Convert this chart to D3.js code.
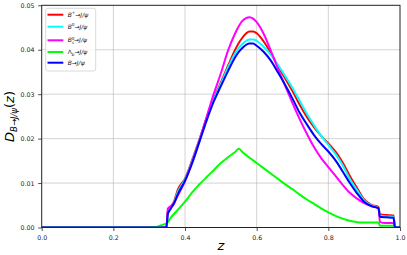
<!DOCTYPE html>
<html><head><meta charset="utf-8">
<script src="https://cdn.jsdelivr.net/npm/d3@7/dist/d3.min.js"></script>
<style>body{margin:0;background:#fff}svg{display:block}text{font-family:"DejaVu Sans",sans-serif}</style>
</head><body><div id="chart"></div>
<script>
const zGrid = [0, 0.30, 0.32, 0.34, 0.348, 0.352, 0.36, 0.37, 0.38, 0.40, 0.42, 0.44, 0.46, 0.48, 0.50, 0.52, 0.54, 0.55, 0.56, 0.58, 0.59, 0.60, 0.62, 0.64, 0.66, 0.68, 0.70, 0.72, 0.74, 0.76, 0.78, 0.80, 0.82, 0.84, 0.86, 0.88, 0.90, 0.92, 0.94, 0.944, 0.96, 0.982, 0.986, 1.0];
const bPlus = [0,0,0,0,0,0.0035,0.0045,0.006,0.0085,0.011,0.0152,0.0198,0.0246,0.029,0.0326,0.0364,0.0400,0.0415,0.0427,0.0441,0.0441,0.0437,0.0418,0.0392,0.0362,0.0335,0.0307,0.0276,0.0249,0.0226,0.0206,0.0189,0.0171,0.0146,0.0116,0.0089,0.0063,0.0051,0.0046,0.0030,0.0028,0.0027,0,0];
const bZero = [0,0,0,0,0,0.0032,0.0044,0.0058,0.008,0.0108,0.015,0.0197,0.0245,0.0288,0.0323,0.036,0.0392,0.0404,0.0413,0.0423,0.0423,0.0420,0.0406,0.0388,0.0365,0.0340,0.0314,0.0285,0.0256,0.0230,0.0206,0.0186,0.0165,0.0140,0.0109,0.0084,0.0061,0.0050,0.0044,0.0027,0.0025,0.0024,0,0];
const bS = [0,0,0,0,0,0.0042,0.0048,0.0057,0.0072,0.0105,0.0148,0.0195,0.0248,0.0300,0.0347,0.0398,0.0437,0.0453,0.0465,0.0473,0.0470,0.0462,0.0435,0.0397,0.0356,0.0318,0.0280,0.0244,0.0211,0.0181,0.0156,0.0136,0.0116,0.0096,0.0078,0.0065,0.0055,0.0048,0.0043,0.0012,0.0010,0.0010,0,0];
const lambdaB = [0,0,0.0001,0.0007,0.0009,0.0012,0.0022,0.0031,0.0040,0.0058,0.0079,0.0097,0.0113,0.0129,0.0145,0.0158,0.0170,0.0177,0.0170,0.0157,0.0151,0.0145,0.0133,0.0121,0.0109,0.0097,0.0086,0.0074,0.0063,0.0053,0.0043,0.0034,0.0026,0.0020,0.0015,0.0012,0.0011,0.0011,0.0011,0.0004,0.0004,0.0004,0,0];
const bAll = [0,0,0,0,0,0.003,0.0042,0.0055,0.0075,0.0105,0.0145,0.0192,0.024,0.0283,0.0318,0.0352,0.0383,0.0395,0.0404,0.0414,0.0414,0.0409,0.0395,0.0375,0.0348,0.0320,0.0290,0.0258,0.0232,0.0208,0.0188,0.0171,0.0151,0.0126,0.0100,0.0077,0.0058,0.0048,0.0043,0.0024,0.0023,0.0022,0,0];
const xTicks = [0.0, 0.2, 0.4, 0.6, 0.8, 1.0];
const yTicks = [0.00, 0.01, 0.02, 0.03, 0.04, 0.05];
const seriesNames = ["B+", "B0", "Bs", "Lb", "B"];
const seriesColors = ["#ff0000", "#00ffff", "#ff00ff", "#00ff00", "#0000ff"];
const seriesValues = [bPlus, bZero, bS, lambdaB, bAll];

const W = 407, H = 255;
const m = {l: 41.7, r: 7, t: 5.3, b: 27.5};
const svg = d3.select("#chart").append("svg").attr("width", W).attr("height", H);
const x = d3.scaleLinear().domain([0, 1]).range([m.l, W - m.r]);
const y = d3.scaleLinear().domain([0, 0.05]).range([H - m.b, m.t]);

// grid
svg.append("g").selectAll("line").data(xTicks.slice(1, -1)).join("line")
  .attr("x1", d => x(d)).attr("x2", d => x(d)).attr("y1", y(0)).attr("y2", y(0.05))
  .attr("stroke", "#b0b0b0").attr("stroke-opacity", 0.7).attr("stroke-width", 0.8);
svg.append("g").selectAll("line").data(yTicks.slice(1, -1)).join("line")
  .attr("y1", d => y(d)).attr("y2", d => y(d)).attr("x1", x(0)).attr("x2", x(1))
  .attr("stroke", "#b0b0b0").attr("stroke-opacity", 0.7).attr("stroke-width", 0.8);

svg.append("clipPath").attr("id", "clip").append("rect")
  .attr("x", x(0)).attr("y", y(0.05)).attr("width", x(1) - x(0)).attr("height", y(0) - y(0.05));

const line = d3.line().x((d, i) => x(zGrid[i])).y(d => y(d)).curve(d3.curveMonotoneX);
const gl = svg.append("g").attr("clip-path", "url(#clip)");
seriesValues.forEach((vals, k) => {
  gl.append("path").datum(vals).attr("d", line).attr("fill", "none")
    .attr("stroke", seriesColors[k]).attr("stroke-width", 2).attr("stroke-linejoin", "round");
});

// axes
const xAxis = d3.axisBottom(x).tickValues(xTicks).tickFormat(d3.format(".1f")).tickSize(3.5).tickSizeOuter(0);
const yAxis = d3.axisLeft(y).tickValues(yTicks).tickFormat(d3.format(".2f")).tickSize(3.5).tickSizeOuter(0);
const gx = svg.append("g").attr("transform", `translate(0,${y(0)})`).call(xAxis);
const gy = svg.append("g").attr("transform", `translate(${x(0)},0)`).call(yAxis);
[gx, gy].forEach(g => {
  g.select(".domain").remove();
  g.selectAll("text").attr("font-size", 6.3).attr("fill", "#222").attr("font-family", "DejaVu Sans");
  g.selectAll("line").attr("stroke", "#222").attr("stroke-width", 0.8);
});
gx.selectAll("text").attr("dy", "0.9em");
gy.selectAll("text").attr("dx", "-0.1em");

// frame
svg.append("rect").attr("x", x(0)).attr("y", y(0.05)).attr("width", x(1) - x(0)).attr("height", y(0) - y(0.05))
  .attr("fill", "none").attr("stroke", "#222").attr("stroke-width", 1);

// axis labels
svg.append("text").attr("x", (x(0) + x(1)) / 2).attr("y", 250).attr("text-anchor", "middle")
  .attr("font-size", 13).attr("font-style", "italic").text("z");
const yl = svg.append("text").attr("transform", `translate(14,116.5) rotate(-90)`).attr("text-anchor", "middle")
  .attr("font-size", 13);
yl.append("tspan").attr("font-style", "italic").text("D");
yl.append("tspan").attr("font-size", 8.5).attr("dy", 3).attr("font-style", "italic").text("B→J/ψ");
yl.append("tspan").attr("dy", -3).text("(");
yl.append("tspan").attr("font-style", "italic").text("z");
yl.append("tspan").text(")");

// legend
const lg = svg.append("g");
lg.append("rect").attr("x", 45.7).attr("y", 8.3).attr("width", 50).attr("height", 62.7).attr("rx", 2)
  .attr("fill", "#fff").attr("fill-opacity", 0.8).attr("stroke", "#d0d0d0").attr("stroke-width", 0.8);
const legY = [14.7, 26.7, 40.3, 52, 62.7];
const order = [0, 1, 2, 3, 4];
order.forEach((k, i) => {
  const yy = legY[i];
  lg.append("line").attr("x1", 47.5).attr("x2", 63.3).attr("y1", yy).attr("y2", yy)
    .attr("stroke", seriesColors[k]).attr("stroke-width", 2);
  const t = lg.append("text").attr("x", 67.7).attr("y", yy + 2.1).attr("font-size", 6).attr("fill", "#111");
  const name = seriesNames[k];
  if (name === "B+") {
    t.append("tspan").attr("font-style", "italic").text("B");
    t.append("tspan").attr("font-size", 4.2).attr("dy", -2.5).text("+");
    t.append("tspan").attr("dy", 2.5).text("→");
  } else if (name === "B0") {
    t.append("tspan").attr("font-style", "italic").text("B");
    t.append("tspan").attr("font-size", 4.2).attr("dy", -2.5).text("0");
    t.append("tspan").attr("dy", 2.5).text("→");
  } else if (name === "Bs") {
    t.append("tspan").attr("font-style", "italic").text("B");
    t.append("tspan").attr("font-size", 4.2).attr("dy", -2.5).text("0");
    t.append("tspan").attr("font-size", 4.2).attr("dx", -2.6).attr("dy", 4.5).attr("font-style", "italic").text("s");
    t.append("tspan").attr("dy", -2).text("→");
  } else if (name === "Lb") {
    t.append("tspan").text("Λ");
    t.append("tspan").attr("font-size", 4.2).attr("dy", 1.5).attr("font-style", "italic").text("b");
    t.append("tspan").attr("dy", -1.5).text("→");
  } else {
    t.append("tspan").attr("font-style", "italic").text("B");
    t.append("tspan").text("→");
  }
  t.append("tspan").attr("font-style", "italic").text("J/ψ");
});
</script></body></html>
